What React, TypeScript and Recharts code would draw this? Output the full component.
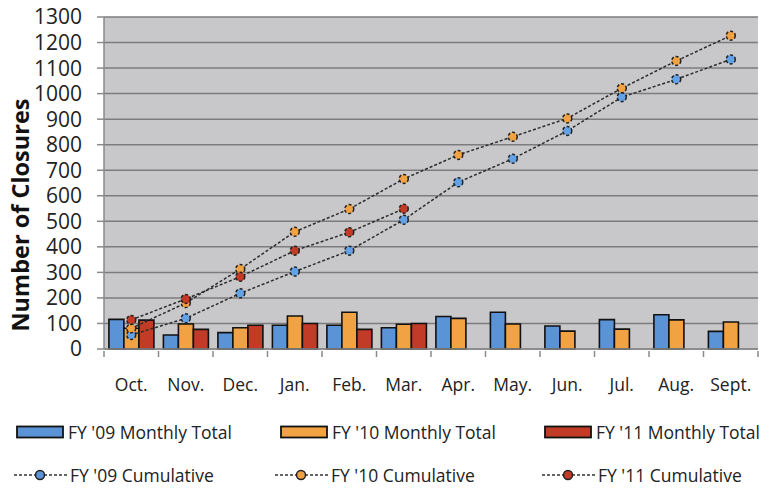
import { ComposedChart, Bar, Line, XAxis, YAxis, CartesianGrid } from 'recharts'

const months = ['Oct.', 'Nov.', 'Dec.', 'Jan.', 'Feb.', 'Mar.', 'Apr.', 'May.', 'Jun.', 'Jul.', 'Aug.', 'Sept.']

// monthly closures
const fy09Monthly = [116, 55, 64, 93, 93, 83, 127, 144, 90, 115, 134, 69]
const fy10Monthly = [81, 98, 83, 129, 144, 97, 120, 98, 70, 78, 114, 106]
const fy11Monthly = [113, 77, 93, 100, 77, 100, null, null, null, null, null, null]

// running totals
const fy09Cumulative = [55, 120, 218, 303, 385, 506, 653, 745, 854, 986, 1056, 1134]
const fy10Cumulative = [81, 180, 313, 459, 548, 666, 760, 831, 903, 1021, 1128, 1227]
const fy11Cumulative = [114, 196, 283, 385, 457, 549, null, null, null, null, null, null]

const yTicks = [0, 100, 200, 300, 400, 500, 600, 700, 800, 900, 1000, 1100, 1200, 1300]

const BLUE = '#5b93d7'
const ORANGE = '#f1a243'
const RED = '#c23b27'
const FONT = '"Open Sans", sans-serif'

const data = months.map((m, i) => ({
    month: m,
    fy09: fy09Monthly[i],
    fy10: fy10Monthly[i],
    fy11: fy11Monthly[i],
    fy09c: fy09Cumulative[i],
    fy10c: fy10Cumulative[i],
    fy11c: fy11Cumulative[i],
}))

const HALF_BAND = 27.25

function MonthTick(props: any) {
    const { x, y, payload, index } = props
    return (
        <g>
            <line x1={x - HALF_BAND} x2={x - HALF_BAND} y1={y} y2={y + 6} stroke="#8a8a8a" strokeWidth={1.5} />
            {index === months.length - 1 && (
                <line x1={x + HALF_BAND} x2={x + HALF_BAND} y1={y} y2={y + 6} stroke="#8a8a8a" strokeWidth={1.5} />
            )}
            <text x={x} y={y + 40} textAnchor="middle" fontSize={17.5} fill="#222" fontFamily={FONT}>
                {payload.value}
            </text>
        </g>
    )
}

const legendBars = [
    { label: "FY '09 Monthly Total", color: BLUE, left: 16 },
    { label: "FY '10 Monthly Total", color: ORANGE, left: 280 },
    { label: "FY '11 Monthly Total", color: RED, left: 544 },
]
const legendLines = [
    { label: "FY '09 Cumulative", color: BLUE, left: 14 },
    { label: "FY '10 Cumulative", color: ORANGE, left: 275 },
    { label: "FY '11 Cumulative", color: RED, left: 542 },
]

function ChartLegend() {
    return (
        <div style={{ position: 'absolute', left: 0, top: 0, width: 780, height: 491, pointerEvents: 'none', fontFamily: FONT, fontSize: 17.5, color: '#222' }}>
            {legendBars.map(l => (
                <div key={l.label} style={{ position: 'absolute', left: l.left, top: 421, display: 'flex', alignItems: 'center', height: 22 }}>
                    <svg width={50} height={14}>
                        <rect x={1} y={1.5} width={46} height={11} fill={l.color} stroke="#111" strokeWidth={1.8} />
                    </svg>
                    <span style={{ marginLeft: 2, whiteSpace: 'nowrap' }}>{l.label}</span>
                </div>
            ))}
            {legendLines.map(l => (
                <div key={l.label} style={{ position: 'absolute', left: l.left, top: 464, display: 'flex', alignItems: 'center', height: 22 }}>
                    <svg width={54} height={14}>
                        <line x1={0} x2={53} y1={7} y2={7} stroke="#333" strokeWidth={1.5} strokeDasharray="3 2" />
                        <circle cx={26} cy={7} r={4.5} fill={l.color} stroke="#222" strokeWidth={1.5} />
                    </svg>
                    <span style={{ marginLeft: 2, whiteSpace: 'nowrap' }}>{l.label}</span>
                </div>
            ))}
        </div>
    )
}

export default function App() {
    const dot = (color: string) => ({ r: 4.5, fill: color, stroke: '#222', strokeWidth: 1.5 })

    return (
        <div style={{ position: 'absolute', left: 0, top: 0, width: 780, height: 491, background: '#fff' }}>
            <ComposedChart
                width={780}
                height={491}
                data={data}
                margin={{ top: 17, right: 22, left: 0, bottom: 92 }}
                barCategoryGap="9%"
                barGap={0}
            >
                <CartesianGrid vertical={false} stroke="#7c7c7c" strokeWidth={1.5} fill="#c8c8ca" />
                <XAxis
                    dataKey="month"
                    height={50}
                    interval={0}
                    tickSize={0}
                    tickLine={false}
                    axisLine={{ stroke: '#8a8a8a', strokeWidth: 1.5 }}
                    tick={<MonthTick />}
                />
                <YAxis
                    width={104}
                    domain={[0, 1300]}
                    ticks={yTicks}
                    interval={0}
                    tickSize={7}
                    tickMargin={15}
                    axisLine={{ stroke: '#8a8a8a', strokeWidth: 1.5 }}
                    tickLine={{ stroke: '#8a8a8a', strokeWidth: 1.5 }}
                    tick={{ fontSize: 21, fill: '#222', fontFamily: FONT }}
                />
                <Bar dataKey="fy09" fill={BLUE} stroke="#111" strokeWidth={1.6} isAnimationActive={false} />
                <Bar dataKey="fy10" fill={ORANGE} stroke="#111" strokeWidth={1.6} isAnimationActive={false} />
                <Bar dataKey="fy11" fill={RED} stroke="#111" strokeWidth={1.6} isAnimationActive={false} />
                <Line dataKey="fy09c" stroke="#2c2c2c" strokeWidth={1.5} strokeDasharray="3 2" dot={dot('#64a2e6')} activeDot={false} isAnimationActive={false} />
                <Line dataKey="fy10c" stroke="#2c2c2c" strokeWidth={1.5} strokeDasharray="3 2" dot={dot(ORANGE)} activeDot={false} isAnimationActive={false} />
                <Line dataKey="fy11c" stroke="#2c2c2c" strokeWidth={1.5} strokeDasharray="3 2" dot={dot(RED)} activeDot={false} isAnimationActive={false} />
            </ComposedChart>
            <div
                style={{
                    position: 'absolute',
                    left: 20,
                    top: 215,
                    transform: 'translate(-50%, -50%) rotate(-90deg)',
                    fontFamily: FONT,
                    fontWeight: 700,
                    fontSize: 23.5,
                    color: '#111',
                    whiteSpace: 'nowrap',
                }}
            >
                Number of Closures
            </div>
            <ChartLegend />
        </div>
    )
}
